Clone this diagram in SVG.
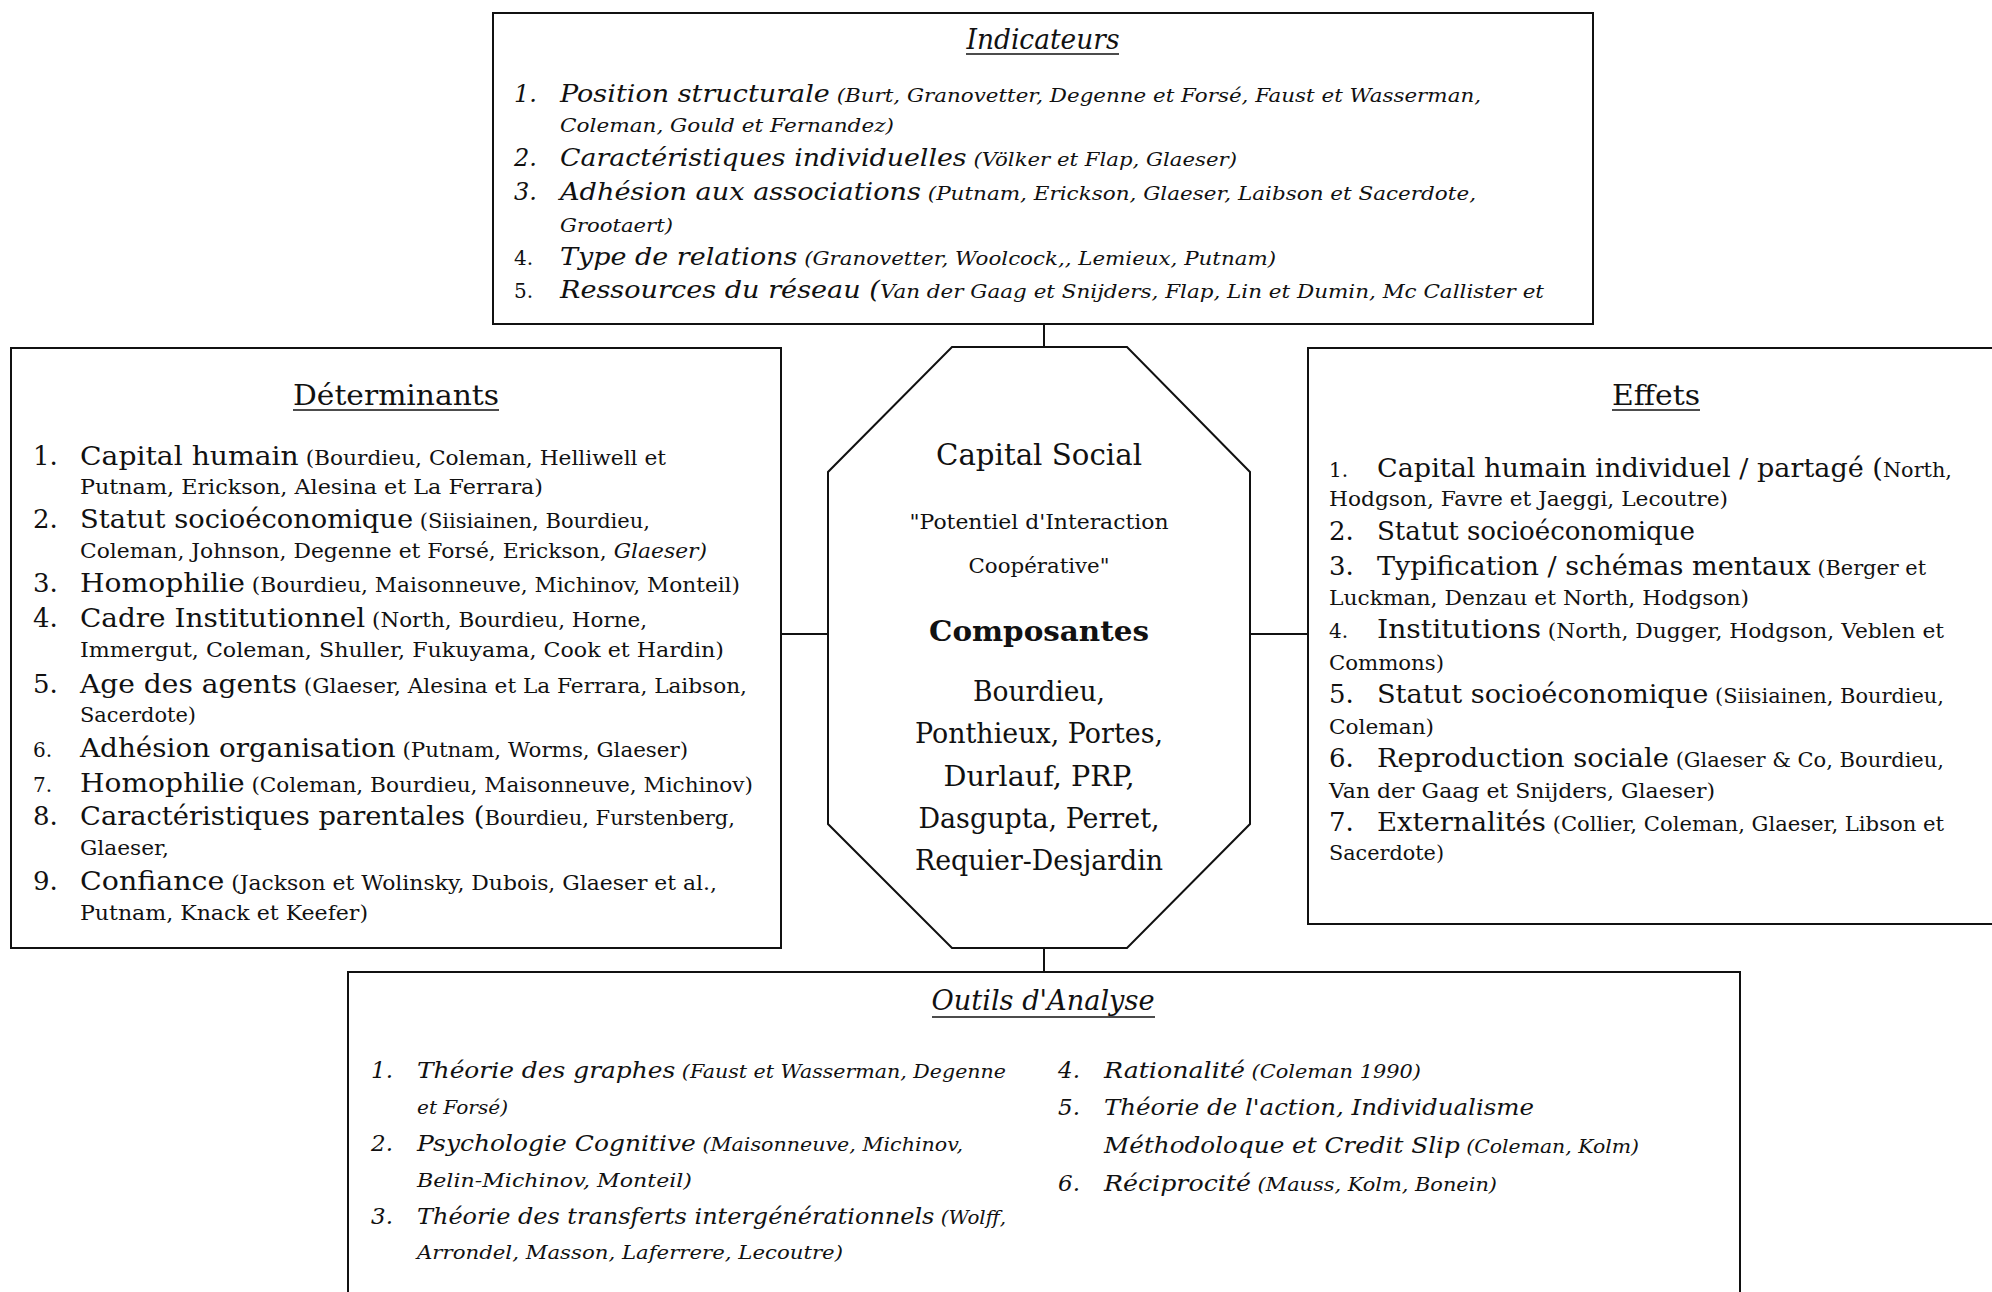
<svg xmlns="http://www.w3.org/2000/svg" width="1992" height="1292" viewBox="0 0 1992 1292">
<style>
text { font-family: "DejaVu Serif", "Liberation Serif", serif; fill: #111; }
.box { fill: #fff; stroke: #111; stroke-width: 2; }
.con { stroke: #111; stroke-width: 2; fill: none; }
.ul { stroke: #111; stroke-width: 1.6; }
.t { font-size: 27px; }
.m { font-size: 26px; }
.r { font-size: 20px; }
.mi { font-size: 24px; font-style: italic; }
.ri { font-size: 19px; font-style: italic; }
.oi { font-size: 23px; font-style: italic; }
.ori { font-size: 19px; font-style: italic; }
.ns { font-size: 20px; }
.c { text-anchor: middle; }
</style>
<g id="connectors">
<line class="con" x1="1044" y1="324" x2="1044" y2="347"/>
<line class="con" x1="1044" y1="948" x2="1044" y2="972"/>
<line class="con" x1="781" y1="634" x2="828" y2="634"/>
<line class="con" x1="1250" y1="634" x2="1308" y2="634"/>
</g>
<g id="indicateurs">
<rect class="box" x="493" y="13" width="1100" height="311"/>
<text class="t c" x="1043" y="49" font-style="italic" textLength="153" lengthAdjust="spacingAndGlyphs">Indicateurs</text>
<line class="ul" x1="966" y1="54" x2="1119" y2="54"/>
<text class="mi" x="514" y="102">1.</text>
<text x="560" y="102" textLength="921" lengthAdjust="spacingAndGlyphs"><tspan class="mi">Position structurale</tspan><tspan class="ri"> (Burt, Granovetter, Degenne et Forsé, Faust et Wasserman,</tspan></text>
<text x="560" y="132" class="ri" textLength="334" lengthAdjust="spacingAndGlyphs">Coleman, Gould et Fernandez)</text>
<text class="mi" x="514" y="166">2.</text>
<text x="560" y="166" textLength="677" lengthAdjust="spacingAndGlyphs"><tspan class="mi">Caractéristiques individuelles</tspan><tspan class="ri"> (Völker et Flap, Glaeser)</tspan></text>
<text class="mi" x="514" y="200">3.</text>
<text x="560" y="200" textLength="916" lengthAdjust="spacingAndGlyphs"><tspan class="mi">Adhésion aux associations</tspan><tspan class="ri"> (Putnam, Erickson, Glaeser, Laibson et Sacerdote,</tspan></text>
<text x="560" y="232" class="ri" textLength="113" lengthAdjust="spacingAndGlyphs">Grootaert)</text>
<text class="ns" x="514" y="265">4.</text>
<text x="560" y="265" textLength="716" lengthAdjust="spacingAndGlyphs"><tspan class="mi">Type de relations</tspan><tspan class="ri"> (Granovetter, Woolcock,, Lemieux, Putnam)</tspan></text>
<text class="ns" x="514" y="298">5.</text>
<text x="560" y="298" textLength="984" lengthAdjust="spacingAndGlyphs"><tspan class="mi">Ressources du réseau (</tspan><tspan class="ri">Van der Gaag et Snijders, Flap, Lin et Dumin, Mc Callister et</tspan></text>
</g>
<g id="determinants">
<rect class="box" x="11" y="348" width="770" height="600"/>
<text class="t c" x="396" y="405" textLength="206" lengthAdjust="spacingAndGlyphs">Déterminants</text>
<line class="ul" x1="293" y1="410" x2="499" y2="410"/>
<text class="m" x="33" y="465">1.</text>
<text x="80" y="465" textLength="586" lengthAdjust="spacingAndGlyphs"><tspan class="m">Capital humain</tspan><tspan class="r"> (Bourdieu, Coleman, Helliwell et</tspan></text>
<text x="80" y="494" class="r" textLength="463" lengthAdjust="spacingAndGlyphs">Putnam, Erickson, Alesina et La Ferrara)</text>
<text class="m" x="33" y="528">2.</text>
<text x="80" y="528" textLength="570" lengthAdjust="spacingAndGlyphs"><tspan class="m">Statut socioéconomique</tspan><tspan class="r"> (Siisiainen, Bourdieu,</tspan></text>
<text x="80" y="558" class="r" textLength="627" lengthAdjust="spacingAndGlyphs">Coleman, Johnson, Degenne et Forsé, Erickson, <tspan font-style="italic">Glaeser)</tspan></text>
<text class="m" x="33" y="592">3.</text>
<text x="80" y="592" textLength="660" lengthAdjust="spacingAndGlyphs"><tspan class="m">Homophilie</tspan><tspan class="r"> (Bourdieu, Maisonneuve, Michinov, Monteil)</tspan></text>
<text class="m" x="33" y="627">4.</text>
<text x="80" y="627" textLength="567" lengthAdjust="spacingAndGlyphs"><tspan class="m">Cadre Institutionnel</tspan><tspan class="r"> (North, Bourdieu, Horne,</tspan></text>
<text x="80" y="657" class="r" textLength="644" lengthAdjust="spacingAndGlyphs">Immergut, Coleman, Shuller, Fukuyama, Cook et Hardin)</text>
<text class="m" x="33" y="693">5.</text>
<text x="80" y="693" textLength="667" lengthAdjust="spacingAndGlyphs"><tspan class="m">Age des agents</tspan><tspan class="r"> (Glaeser, Alesina et La Ferrara, Laibson,</tspan></text>
<text x="80" y="722" class="r" textLength="116" lengthAdjust="spacingAndGlyphs">Sacerdote)</text>
<text class="ns" x="33" y="757">6.</text>
<text x="80" y="757" textLength="608" lengthAdjust="spacingAndGlyphs"><tspan class="m">Adhésion organisation</tspan><tspan class="r"> (Putnam, Worms, Glaeser)</tspan></text>
<text class="ns" x="33" y="792">7.</text>
<text x="80" y="792" textLength="673" lengthAdjust="spacingAndGlyphs"><tspan class="m">Homophilie</tspan><tspan class="r"> (Coleman, Bourdieu, Maisonneuve, Michinov)</tspan></text>
<text class="m" x="33" y="825">8.</text>
<text x="80" y="825" textLength="655" lengthAdjust="spacingAndGlyphs"><tspan class="m">Caractéristiques parentales (</tspan><tspan class="r">Bourdieu, Furstenberg,</tspan></text>
<text x="80" y="855" class="r" textLength="89" lengthAdjust="spacingAndGlyphs">Glaeser,</text>
<text class="m" x="33" y="890">9.</text>
<text x="80" y="890" textLength="637" lengthAdjust="spacingAndGlyphs"><tspan class="m">Confiance</tspan><tspan class="r"> (Jackson et Wolinsky, Dubois, Glaeser et al.,</tspan></text>
<text x="80" y="920" class="r" textLength="288" lengthAdjust="spacingAndGlyphs">Putnam, Knack et Keefer)</text>
</g>
<g id="capital-social">
<polygon class="box" points="952,347 1127,347 1250,472 1250,824 1127,948 952,948 828,824 828,472"/>
<text class="c" x="1039" y="465" font-size="29" textLength="206" lengthAdjust="spacingAndGlyphs">Capital Social</text>
<text class="c" x="1039" y="529" font-size="21" textLength="259" lengthAdjust="spacingAndGlyphs">"Potentiel d'Interaction</text>
<text class="c" x="1039" y="573" font-size="21" textLength="141" lengthAdjust="spacingAndGlyphs">Coopérative"</text>
<text class="c" x="1039" y="641" font-size="28" font-weight="bold" textLength="220" lengthAdjust="spacingAndGlyphs">Composantes</text>
<text class="c" x="1039" y="701" font-size="27" textLength="132" lengthAdjust="spacingAndGlyphs">Bourdieu,</text>
<text class="c" x="1039" y="743" font-size="27" textLength="248" lengthAdjust="spacingAndGlyphs">Ponthieux, Portes,</text>
<text class="c" x="1039" y="786" font-size="27" textLength="191" lengthAdjust="spacingAndGlyphs">Durlauf, PRP,</text>
<text class="c" x="1039" y="828" font-size="27" textLength="241" lengthAdjust="spacingAndGlyphs">Dasgupta, Perret,</text>
<text class="c" x="1039" y="870" font-size="27" textLength="248" lengthAdjust="spacingAndGlyphs">Requier-Desjardin</text>
</g>
<g id="effets">
<rect class="box" x="1308" y="348" width="700" height="576"/>
<text class="t c" x="1656" y="405" textLength="88" lengthAdjust="spacingAndGlyphs">Effets</text>
<line class="ul" x1="1612" y1="410" x2="1700" y2="410"/>
<text class="ns" x="1329" y="477">1.</text>
<text x="1377" y="477" textLength="575" lengthAdjust="spacingAndGlyphs"><tspan class="m">Capital humain individuel / partagé (</tspan><tspan class="r">North,</tspan></text>
<text x="1329" y="506" class="r" textLength="399" lengthAdjust="spacingAndGlyphs">Hodgson, Favre et Jaeggi, Lecoutre)</text>
<text class="m" x="1329" y="540">2.</text>
<text x="1377" y="540" class="m" textLength="318" lengthAdjust="spacingAndGlyphs">Statut socioéconomique</text>
<text class="m" x="1329" y="575">3.</text>
<text x="1377" y="575" textLength="549" lengthAdjust="spacingAndGlyphs"><tspan class="m">Typification / schémas mentaux</tspan><tspan class="r"> (Berger et</tspan></text>
<text x="1329" y="605" class="r" textLength="420" lengthAdjust="spacingAndGlyphs">Luckman, Denzau et North, Hodgson)</text>
<text class="ns" x="1329" y="638">4.</text>
<text x="1377" y="638" textLength="567" lengthAdjust="spacingAndGlyphs"><tspan class="m">Institutions</tspan><tspan class="r"> (North, Dugger, Hodgson, Veblen et</tspan></text>
<text x="1329" y="670" class="r" textLength="115" lengthAdjust="spacingAndGlyphs">Commons)</text>
<text class="m" x="1329" y="703">5.</text>
<text x="1377" y="703" textLength="567" lengthAdjust="spacingAndGlyphs"><tspan class="m">Statut socioéconomique</tspan><tspan class="r"> (Siisiainen, Bourdieu,</tspan></text>
<text x="1329" y="734" class="r" textLength="105" lengthAdjust="spacingAndGlyphs">Coleman)</text>
<text class="m" x="1329" y="767">6.</text>
<text x="1377" y="767" textLength="567" lengthAdjust="spacingAndGlyphs"><tspan class="m">Reproduction sociale</tspan><tspan class="r"> (Glaeser &amp; Co, Bourdieu,</tspan></text>
<text x="1329" y="798" class="r" textLength="386" lengthAdjust="spacingAndGlyphs">Van der Gaag et Snijders, Glaeser)</text>
<text class="m" x="1329" y="831">7.</text>
<text x="1377" y="831" textLength="567" lengthAdjust="spacingAndGlyphs"><tspan class="m">Externalités</tspan><tspan class="r"> (Collier, Coleman, Glaeser, Libson et</tspan></text>
<text x="1329" y="860" class="r" textLength="115" lengthAdjust="spacingAndGlyphs">Sacerdote)</text>
</g>
<g id="outils">
<rect class="box" x="348" y="972" width="1392" height="340"/>
<text class="t c" x="1043" y="1010" font-style="italic" textLength="223" lengthAdjust="spacingAndGlyphs">Outils d'Analyse</text>
<line class="ul" x1="932" y1="1017" x2="1155" y2="1017"/>
<text class="oi" x="371" y="1078">1.</text>
<text x="417" y="1078" textLength="589" lengthAdjust="spacingAndGlyphs"><tspan class="oi">Théorie des graphes</tspan><tspan class="ori"> (Faust et Wasserman, Degenne</tspan></text>
<text x="417" y="1114" class="ori" textLength="91" lengthAdjust="spacingAndGlyphs">et Forsé)</text>
<text class="oi" x="371" y="1151">2.</text>
<text x="417" y="1151" textLength="546" lengthAdjust="spacingAndGlyphs"><tspan class="oi">Psychologie Cognitive</tspan><tspan class="ori"> (Maisonneuve, Michinov,</tspan></text>
<text x="417" y="1187" class="ori" textLength="275" lengthAdjust="spacingAndGlyphs">Belin-Michinov, Monteil)</text>
<text class="oi" x="371" y="1224">3.</text>
<text x="417" y="1224" textLength="589" lengthAdjust="spacingAndGlyphs"><tspan class="oi">Théorie des transferts intergénérationnels</tspan><tspan class="ori"> (Wolff,</tspan></text>
<text x="417" y="1259" class="ori" textLength="426" lengthAdjust="spacingAndGlyphs">Arrondel, Masson, Laferrere, Lecoutre)</text>
<text class="oi" x="1058" y="1078">4.</text>
<text x="1104" y="1078" textLength="317" lengthAdjust="spacingAndGlyphs"><tspan class="oi">Rationalité</tspan><tspan class="ori"> (Coleman 1990)</tspan></text>
<text class="oi" x="1058" y="1115">5.</text>
<text x="1104" y="1115" class="oi" textLength="430" lengthAdjust="spacingAndGlyphs">Théorie de l'action, Individualisme</text>
<text x="1104" y="1153" textLength="535" lengthAdjust="spacingAndGlyphs"><tspan class="oi">Méthodoloque et Credit Slip</tspan><tspan class="ori"> (Coleman, Kolm)</tspan></text>
<text class="oi" x="1058" y="1191">6.</text>
<text x="1104" y="1191" textLength="393" lengthAdjust="spacingAndGlyphs"><tspan class="oi">Réciprocité</tspan><tspan class="ori"> (Mauss, Kolm, Bonein)</tspan></text>
</g>
</svg>
